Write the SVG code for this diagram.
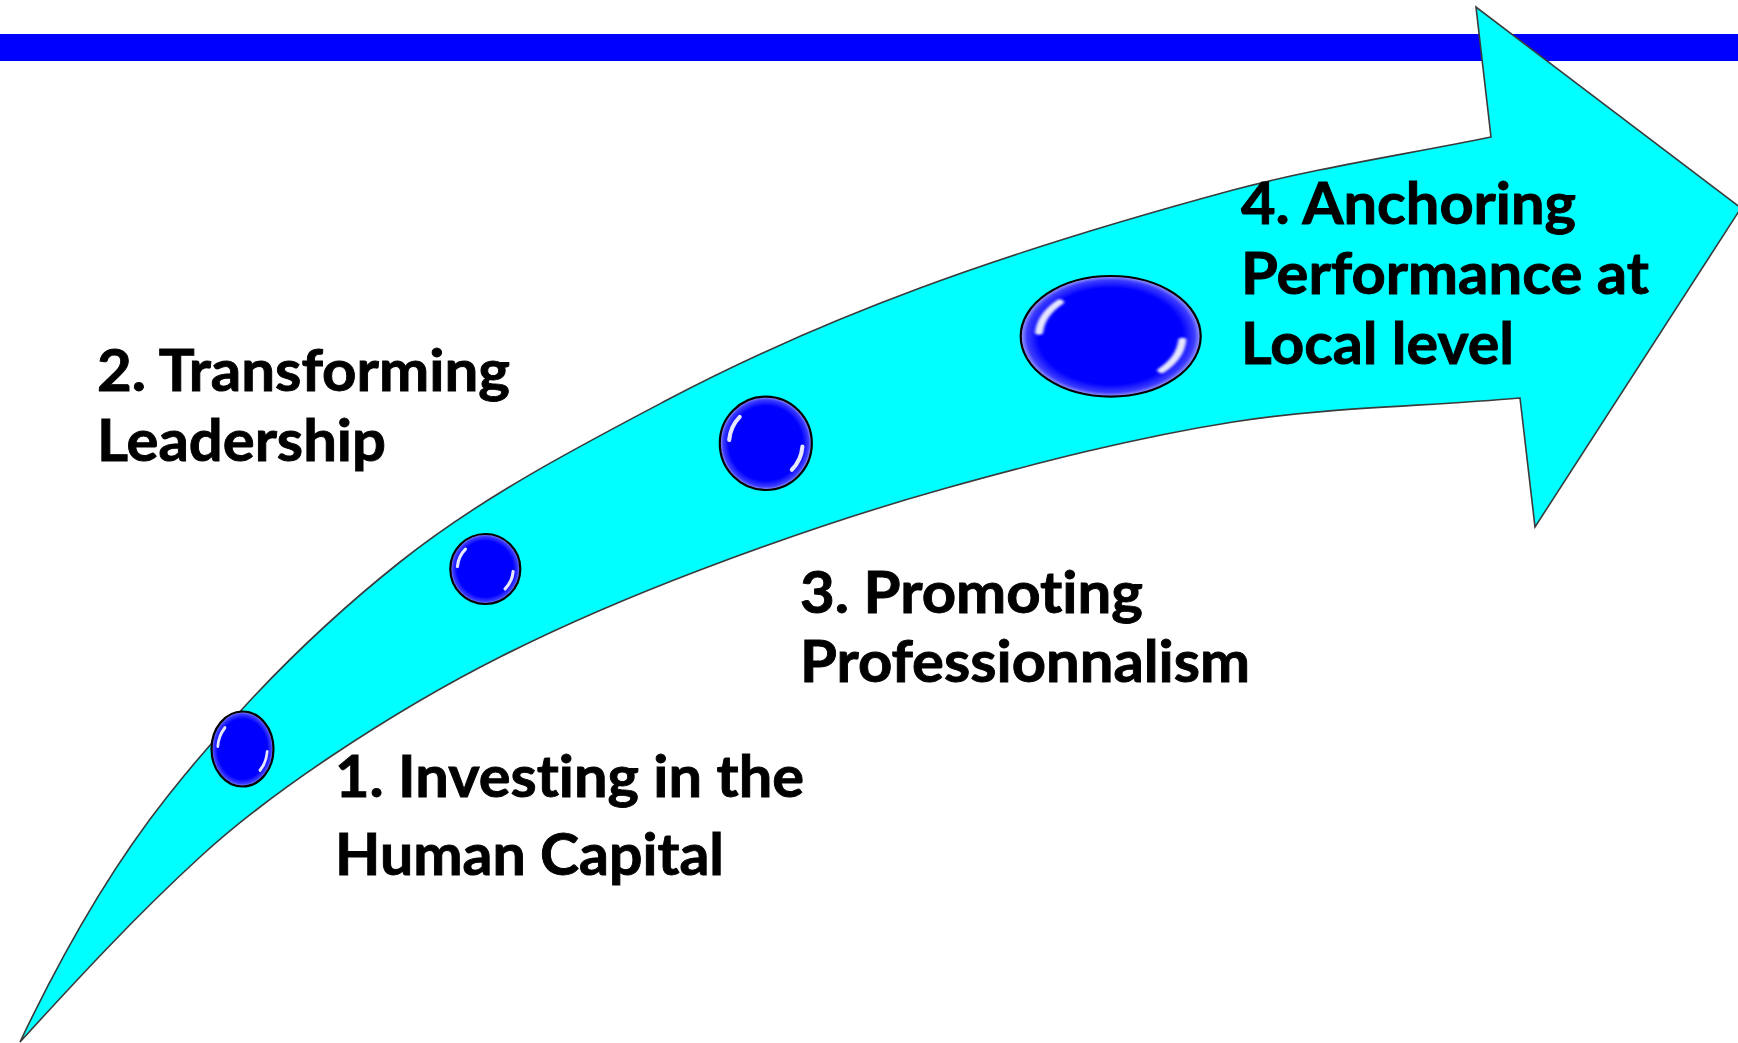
<svg xmlns="http://www.w3.org/2000/svg" xmlns:xlink="http://www.w3.org/1999/xlink" width="1738" height="1043" viewBox="0 0 1738 1043">
<style>
.lbl{font-family:Lato,"Open Sans","Liberation Sans",sans-serif;font-weight:700;font-size:58px;fill:#000;stroke:#000;stroke-width:0.9;font-variant-ligatures:none;font-feature-settings:"liga" 0}
.arrow{fill:#00ffff;stroke:#3a3a3a;stroke-width:1.6;stroke-linejoin:miter}
.bead-edge{stroke:#000;stroke-width:2.2;vector-effect:non-scaling-stroke}
.hl{fill:none;stroke:#fff;stroke-width:4.5;stroke-linecap:round;opacity:.9}
</style>
<defs>
<radialGradient id="gloss" cx="50%" cy="50%" r="50%">
<stop offset="0" stop-color="#0000ff"/>
<stop offset="0.8" stop-color="#0000ff"/>
<stop offset="0.93" stop-color="#3c3cff"/>
<stop offset="1" stop-color="#a0a0ff"/>
</radialGradient>
<filter id="soft" x="-20%" y="-20%" width="140%" height="140%"><feGaussianBlur stdDeviation="0.8"/></filter>
<g id="bead">
<circle r="50" fill="url(#gloss)" class="bead-edge"/>
<g filter="url(#soft)">
<path class="hl" d="M -39.8 -3.5 A 40 40 0 0 1 -28.3 -28.3"/>
<path class="hl" d="M 39.8 3.5 A 40 40 0 0 1 28.3 28.3"/>
</g>
</g>
</defs>
<rect id="top-bar" x="0" y="34" width="1738" height="27" fill="#0000ff"/>
<g id="connectors">
<path class="arrow" d="M 20,1042 C 60.9,956 107.9,871.6 167,797 C 235.5,710.5 313.6,630.6 400,562 C 481.5,497.2 574.9,448.5 667,400 C 748.6,357 833.5,320.1 920,288 C 1022.5,250 1127.5,218.6 1233,190 C 1317.9,167.5 1405,154.6 1491,137 L 1476,7 L 1741,208 L 1535,527 L 1520,398 C 1424.4,406.6 1327.8,407 1233,422 C 1135,437.5 1038.5,462.4 943,489 C 860.8,512.1 779.8,539.7 700,570 C 632,595.8 564.9,624.3 500,657 C 442.4,686 386.7,719.2 333,755 C 286.5,786 241.2,819.2 200,857 C 136.6,915.1 77.9,978.4 20,1042 Z"/>
</g>
<g id="node-1">
<use xlink:href="#bead" href="#bead" transform="translate(242.5,749) scale(0.62,0.75)"/>
<text class="lbl" x="335" y="797" textLength="469" lengthAdjust="spacingAndGlyphs">1. Investing in the</text>
<text class="lbl" x="335" y="875" textLength="389" lengthAdjust="spacingAndGlyphs">Human Capital</text>
</g>
<g id="node-2">
<use xlink:href="#bead" href="#bead" transform="translate(485.3,569) scale(0.70,0.70)"/>
<text class="lbl" x="97" y="391" textLength="413" lengthAdjust="spacingAndGlyphs">2. Transforming</text>
<text class="lbl" x="97" y="461" textLength="289" lengthAdjust="spacingAndGlyphs">Leadership</text>
</g>
<g id="node-3">
<use xlink:href="#bead" href="#bead" transform="translate(765.8,443.3) scale(0.92,0.934)"/>
<text class="lbl" x="800" y="613" textLength="343" lengthAdjust="spacingAndGlyphs">3. Promoting</text>
<text class="lbl" x="800" y="682" textLength="450" lengthAdjust="spacingAndGlyphs">Professionnalism</text>
</g>
<g id="node-4">
<use xlink:href="#bead" href="#bead" transform="translate(1110.7,336.3) scale(1.8,1.206)"/>
<text class="lbl" x="1241" y="224" textLength="335" lengthAdjust="spacingAndGlyphs">4. Anchoring</text>
<text class="lbl" x="1241" y="294" textLength="408" lengthAdjust="spacingAndGlyphs">Performance at</text>
<text class="lbl" x="1241" y="364" textLength="273" lengthAdjust="spacingAndGlyphs">Local level</text>
</g>
</svg>
